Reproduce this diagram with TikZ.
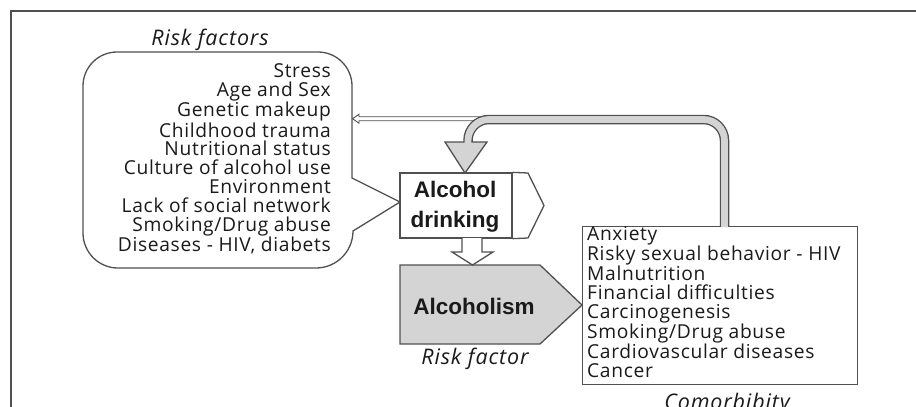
\documentclass[tikz,border=0pt]{standalone}
\usepackage{fontspec}
\setmainfont{Open Sans}
\newfontfamily\listfont[LetterSpace=3.5]{Open Sans}
\newfontfamily\capfont[LetterSpace=4]{Open Sans}
\newfontfamily\arialfont{Liberation Sans}
\definecolor{ln}{HTML}{505050}
\definecolor{fillg}{HTML}{D4D4D4}
\definecolor{txt}{HTML}{1A1A1A}
\tikzset{
  outline/.style={draw=ln, line width=1.3pt},
  listtext/.style={font=\listfont\fontsize{19.2}{18.85}\selectfont, text=txt, inner sep=0pt},
  captext/.style={font=\capfont\itshape\fontsize{21.5}{22}\selectfont, text=txt, inner sep=0pt},
  boldtext/.style={font=\arialfont\bfseries\fontsize{22.5}{30}\selectfont, text=txt, inner sep=0pt, align=center},
}
\begin{document}
\begin{tikzpicture}[x=1pt,y=-1pt]
\useasboundingbox (0,0) rectangle (916,407);
\clip (0,0) rectangle (916,407);
% frame
\draw[outline] (11,407) -- (11,11) -- (916,11);

% risk factors callout
\draw[outline, fill=white] (352,178) -- (400,202) -- (353,231)
  arc[start angle=0, end angle=90, radius=37] -- (118,268)
  arc[start angle=90, end angle=180, radius=35] -- (83,86)
  arc[start angle=180, end angle=270, radius=34] -- (318,52)
  arc[start angle=270, end angle=360, radius=34] -- cycle;
\node[captext] (rftitle) at (210,40) {Risk factors};
\node[listtext, align=right, anchor=east] (rflist) at (331,159) {Stress\\Age and Sex\\Genetic makeup\\Childhood trauma\\Nutritional status\\Culture of alcohol use\\Environment\\Lack of social network\\Smoking/Drug abuse\\Diseases - HIV, diabets};

% alcohol drinking
\node[outline, fill=white, minimum width=112pt, minimum height=65pt, inner sep=0pt] (drink) at (456,205.5) {};
\node[boldtext] (drinktext) at (455,207) {Alcohol\\drinking};
\draw[outline] (drink.north east) -- (528,173) -- (544,205.5) -- (528,238) -- (drink.south east);

% alcoholism
\draw[outline, fill=fillg] (400,265) -- (540,265) -- (582,305) -- (540,344) -- (400,344) -- cycle;
\node[boldtext] (alcm) at (474,306) {Alcoholism};
\node[captext] (rfcap) at (475,359) {Risk factor};

% hollow arrow drinking -> alcoholism
\draw[outline, fill=white] (462,238) -- (462,252) -- (452,252) -- (472.5,265) -- (493,252) -- (482,252) -- (482,238);

% comorbidity
\node[outline, fill=white, anchor=north west, minimum width=275pt, minimum height=158pt, inner sep=0pt] (como) at (582,226) {};
\node[listtext, align=left, anchor=west] (comolist) at (587,302) {Anxiety\\Risky sexual behavior - HIV\\Malnutrition\\Financial difficulties\\Carcinogenesis\\Smoking/Drug abuse\\Cardiovascular diseases\\Cancer};
\node[captext] (comocap) at (727,404) {Comorbibity};

% thin hollow arrow to risk factors
\coordinate (thinstart) at (488,118.7);
\draw[draw=ln, line width=0.9pt, fill=white] (thinstart) ++(0,-2) -- (359,116.7) -- (359,114.2) -- (352.5,118.7) -- (359,123.2) -- (359,120.7) -- (488,120.7);

% gray feedback pipe
\coordinate (pipestart) at (724.5,226);
\coordinate (pipecorner) at (724.5,119.5);
\coordinate (pipecorner2) at (468,119.5);
\coordinate (pipeend) at (468,143);
\draw[ln, line width=9.5pt, rounded corners=21pt] (pipestart) -- (pipecorner) -- (pipecorner2) -- (pipeend);
\draw[outline, fill=fillg] (445,142) -- (487,142) -- (465,173) -- cycle;
\draw[fillg, line width=6.8pt, rounded corners=21pt] (724.5,227) -- (pipecorner) -- (pipecorner2) -- (468,145);
\end{tikzpicture}
\end{document}
